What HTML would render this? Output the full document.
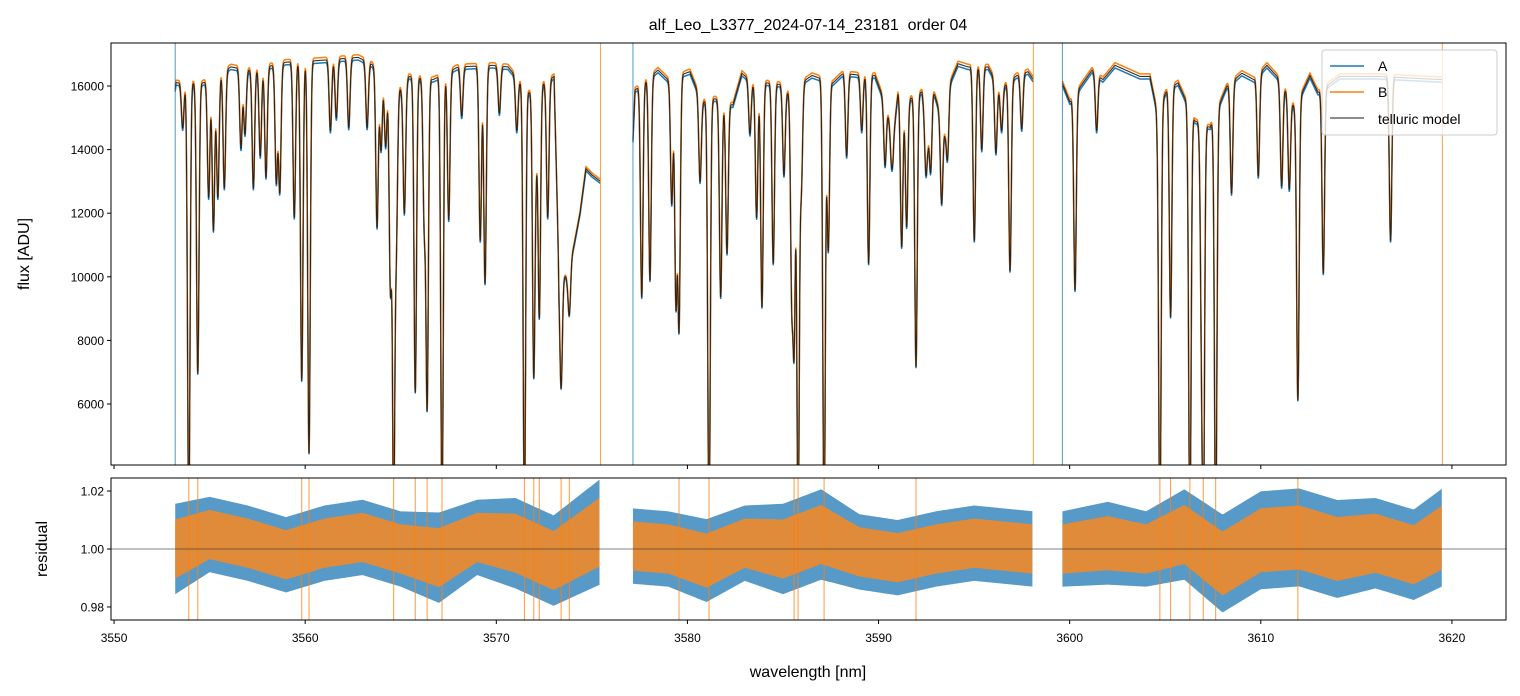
<!DOCTYPE html>
<html><head><meta charset="utf-8"><style>
html,body{margin:0;padding:0;background:#fff;}
svg{display:block;font-family:"Liberation Sans","DejaVu Sans",sans-serif;}
</style></head><body>
<svg id="chart" width="1520" height="696" viewBox="0 0 1520 696" xmlns="http://www.w3.org/2000/svg">
<defs>
<clipPath id="clipTop"><rect x="111" y="43" width="1395" height="422"/></clipPath>
<clipPath id="clipBot"><rect x="111" y="478" width="1395" height="142"/></clipPath>
</defs>
<text x="808" y="30" font-size="16" text-anchor="middle" fill="#000">alf_Leo_L3377_2024-07-14_23181 &#160;order 04</text>
<text transform="translate(29,254) rotate(-90)" font-size="16" text-anchor="middle">flux [ADU]</text>
<text transform="translate(47,549) rotate(-90)" font-size="16" text-anchor="middle">residual</text>
<text x="808" y="677" font-size="16" text-anchor="middle">wavelength [nm]</text>
<g id="topPlot" clip-path="url(#clipTop)"></g>
<g id="botPlot" clip-path="url(#clipBot)"></g>
<g id="axesG"></g>
<g>
<rect x="1322" y="50" width="175" height="85" rx="3" fill="#fff" fill-opacity="0.8" stroke="#ccc" stroke-width="1"/>
<line x1="1330" y1="66" x2="1364" y2="66" stroke="#1f77b4" stroke-width="1.5"/>
<text x="1378" y="71" font-size="14">A</text>
<line x1="1330" y1="92" x2="1364" y2="92" stroke="#ff7f0e" stroke-width="1.5"/>
<text x="1378" y="97" font-size="14">B</text>
<line x1="1330" y1="118" x2="1364" y2="118" stroke="#666" stroke-width="1.5"/>
<text x="1378" y="124" font-size="14">telluric model</text>
</g>
</svg>
<script>
// ---- data ----
const segStart=[3553.2,3577.15,3599.62];
const segEnd=[3575.45,3598.1,3619.5];
const contW=[3553.2,3553.24,3554.66,3556.12,3557.01,3558.32,3559.0,3560.67,3562.77,3563.45,3565.02,3565.43,3566.69,3568.0,3569.83,3570.61,3571.71,3573.02,3573.28,3573.7,3574.07,3574.38,3574.69,3575.01,3575.45,
 3577.15,3577.26,3578.46,3578.98,3580.13,3580.76,3581.44,3582.38,3582.85,3583.43,3584.16,3584.84,3585.21,3586.52,3587.62,3588.14,3588.87,3589.81,3590.44,3590.76,3591.02,3591.64,3592.27,3592.59,3592.85,3593.48,3593.74,3594.16,3594.68,3595.73,3596.35,3597.24,3597.82,3598.1,
 3599.62,3600.01,3600.7,3601.17,3601.74,3602.37,3603.68,3604.2,3604.57,3605.09,3605.67,3606.56,3607.34,3608.23,3609.01,3609.64,3610.32,3610.85,3611.37,3611.79,3612.57,3612.99,3614.14,3616.23,3617.8,3619.5];
const contF=[15900,16100,16100,16600,16500,16650,16750,16800,16900,16700,15900,16300,16200,16600,16650,16600,15800,16300,10100,10000,11000,12000,13400,13200,13000,
 14300,15870,16500,16200,16450,15500,15600,15400,16400,16100,16100,16050,15800,16330,16100,16400,16350,16330,15300,14300,15800,15600,15820,14500,15900,14600,16100,16700,16600,16600,15900,16330,16450,16200,
 16080,15500,16100,16500,16200,16650,16300,16300,15200,15870,16100,14900,14700,16000,16400,16200,16650,16300,15800,15300,16330,15800,16300,16300,16250,16200];
const lineW=[3553.59,3553.91,3554.38,3554.95,3555.2,3555.43,3555.77,3556.64,3556.85,3557.29,3557.65,3557.95,3558.49,3558.67,3559.43,3559.82,3560.2,3561.32,3561.63,3562.28,3563.24,3563.76,3563.97,3564.21,3564.46,3564.63,3564.77,3565.19,3565.76,3566.23,3566.38,3567.16,3567.51,3568.19,3569.16,3569.41,3570.16,3571.07,3571.47,3571.96,3572.08,3572.25,3572.69,3573.39,3573.82,
 3577.61,3578.04,3579.18,3579.4,3579.56,3580.66,3581.13,3581.74,3582.07,3583.27,3583.62,3583.9,3584.49,3585.05,3585.46,3585.58,3585.79,3585.96,3587.15,3587.37,3588.33,3589.12,3589.48,3590.34,3590.69,3591.21,3591.47,3591.96,3592.48,3592.73,3593.3,3593.61,3595.01,3595.4,3596.14,3596.44,3596.88,3597.49,
 3600.28,3601.41,3604.72,3605.28,3606.29,3606.9,3606.99,3607.64,3608.47,3609.87,3611.09,3611.49,3611.94,3613.27,3616.79];
const lineMin=[14680,2500,6975,12500,11470,12500,12800,14050,14500,12800,13800,13140,13000,12700,11880,6750,4460,14600,15000,14700,14700,11570,14000,14100,9680,2500,11400,12000,6380,11800,5900,2500,11800,15050,11150,9800,15150,14600,2500,6975,14100,8740,11880,6500,8800,
 9370,9900,12300,9180,8430,13000,2000,9370,10740,14500,11870,9060,10430,13200,9690,8000,2000,12900,2000,10840,13800,14600,10430,13500,13400,10950,11580,7180,13200,13300,12300,13700,11150,14000,13900,14600,10200,14650,
 9590,14600,2000,8750,2000,9590,2000,2000,12630,13170,12850,12750,6130,10120,11150];
const resW=[3553.2,3555,3557,3559,3561,3563,3565,3567,3569,3571,3573,3575.45,
 3577.15,3579,3581,3583,3585,3587,3589,3591,3593,3595,3598.1,
 3599.62,3602,3604,3606,3608,3610,3612,3614,3616,3618,3619.5];
const resC=[1.0,1.005,1.002,0.998,1.002,1.004,1.0,0.997,1.004,1.002,0.996,1.006,
 1.001,1.0,0.996,1.002,1.0,1.005,0.999,0.997,1.0,1.002,1.0,
 1.0,1.002,1.0,1.005,0.995,1.003,1.004,1.0,1.002,0.998,1.004];
const resHW=[0.012,0.01,0.01,0.01,0.01,0.01,0.01,0.012,0.01,0.012,0.012,0.014,
 0.01,0.01,0.011,0.01,0.012,0.012,0.01,0.01,0.01,0.01,0.01,
 0.01,0.011,0.01,0.012,0.013,0.013,0.013,0.013,0.012,0.012,0.013];
const xTicks=[3550,3560,3570,3580,3590,3600,3610,3620];
const yTicksTop=[6000,8000,10000,12000,14000,16000];
const yTicksBot=[0.98,1.00,1.02];
const yTicksBotLabels=["0.98","1.00","1.02"];

// ---- scales ----
const X0=111,X1=1506,WMIN=3549.84,WMAX=3622.83;
const xs=w=>X0+(w-WMIN)/(WMAX-WMIN)*(X1-X0);
const yT=f=>43+(17352-f)/(17352-4082)*422;
const yB=r=>478+(1.0245-r)/0.049*142;
const NS='http://www.w3.org/2000/svg';
function mk(tag,attrs,parent){const e=document.createElementNS(NS,tag);for(const k in attrs)e.setAttribute(k,attrs[k]);parent.appendChild(e);return e;}
function interp(xa,ya,x){if(x<=xa[0])return ya[0];for(let i=1;i<xa.length;i++){if(x<=xa[i]){const t=(x-xa[i-1])/(xa[i]-xa[i-1]);return ya[i-1]+t*(ya[i]-ya[i-1]);}}return ya[ya.length-1];}
function contAt(w){return interp(contW,contF,w);}
const SIG=0.065;
function model(w){let c=contAt(w);let f=c;for(let i=0;i<lineW.length;i++){const d=w-lineW[i];if(Math.abs(d)>0.5)continue;const c0=contAt(lineW[i]);const a=Math.max(0,1-lineMin[i]/c0);f*=1-a*Math.exp(-(d*d)/(2*SIG*SIG));}return f;}

const topG=document.getElementById('topPlot');
const botG=document.getElementById('botPlot');
const axesG=document.getElementById('axesG');

// spectra
const series=[{name:'spectrum-a',col:'#1f77b4',k:0.995,w:1.5},{name:'spectrum-b',col:'#ff7f0e',k:1.005,w:1.5},{name:'telluric-model',col:'#1a1a1a',k:1.0,w:1.1}];
series.forEach(s=>{
  for(let si=0;si<segStart.length;si++){
    let d='';
    for(let w=segStart[si];w<=segEnd[si];w+=0.005){d+=(d?'L':'M')+xs(w).toFixed(2)+','+yT(model(w)*s.k).toFixed(2);}
    const p=mk('path',{d:d,fill:'none',stroke:s.col,'stroke-width':s.w,'stroke-linejoin':'round','stroke-opacity':s.name==='telluric-model'?0.9:1},topG);
    
    
  }
});
// edge artifacts
for(let si=0;si<segStart.length;si++){
  [segStart[si],segEnd[si]].forEach((w,j)=>{
    const l=mk('line',{x1:xs(w),x2:xs(w),y1:43,y2:465,stroke:j?'#ff7f0e':'#1f77b4','stroke-width':1,'stroke-opacity':0.75},topG);
    
    
  });
}

// residual bands
[{name:'residual-a-band',col:'#1f77b4',m:1.3,o:0.75},{name:'residual-b-band',col:'#f08a2a',m:0.85,o:0.9}].forEach(s=>{
  for(let si=0;si<segStart.length;si++){
    const up=[],dn=[];
    for(let w=segStart[si];w<=segEnd[si];w+=0.05){
      const c=interp(resW,resC,w),h=interp(resW,resHW,w)*s.m;
      up.push(xs(w).toFixed(2)+','+yB(c+h).toFixed(2));
      dn.unshift(xs(w).toFixed(2)+','+yB(c-h).toFixed(2));
    }
    const p=mk('polygon',{points:up.concat(dn).join(' '),fill:s.col,'fill-opacity':s.o},botG);
    
    
  }
});
// residual spikes at deep line cores
for(let i=0;i<lineW.length;i++){
  if(lineMin[i]>9000)continue;
  const l1=mk('line',{x1:xs(lineW[i]),x2:xs(lineW[i]),y1:yB(1.03),y2:yB(0.97),stroke:'#ff7f0e','stroke-width':1,'stroke-opacity':0.8},botG);
  
  
}
const zl=mk('line',{x1:111,x2:1506,y1:yB(1),y2:yB(1),stroke:'#333','stroke-width':0.8,'stroke-opacity':0.8},botG);



// axes frames
[[43,465],[478,620]].forEach((r,i)=>{
  const f=mk('rect',{x:111,y:r[0],width:1395,height:r[1]-r[0],fill:'none',stroke:'#000','stroke-width':1},axesG);
  
  
});
xTicks.forEach(t=>{
  const x=xs(t);
  mk('line',{x1:x,x2:x,y1:465,y2:469,stroke:'#000'},axesG);
  mk('line',{x1:x,x2:x,y1:620,y2:624,stroke:'#000'},axesG);
  const tx=mk('text',{x:x,y:642,'font-size':12,'text-anchor':'middle'},axesG);
  tx.textContent=t;
  
  
});
yTicksTop.forEach(t=>{
  const y=yT(t);
  mk('line',{x1:107,x2:111,y1:y,y2:y,stroke:'#000'},axesG);
  const tx=mk('text',{x:104,y:y+4.5,'font-size':12,'text-anchor':'end'},axesG);
  tx.textContent=t;
  
  
});
yTicksBot.forEach((t,i)=>{
  const y=yB(t);
  mk('line',{x1:107,x2:111,y1:y,y2:y,stroke:'#000'},axesG);
  const tx=mk('text',{x:104,y:y+4.5,'font-size':12,'text-anchor':'end'},axesG);
  tx.textContent=yTicksBotLabels[i];
  
  
});
</script>
</body></html>
